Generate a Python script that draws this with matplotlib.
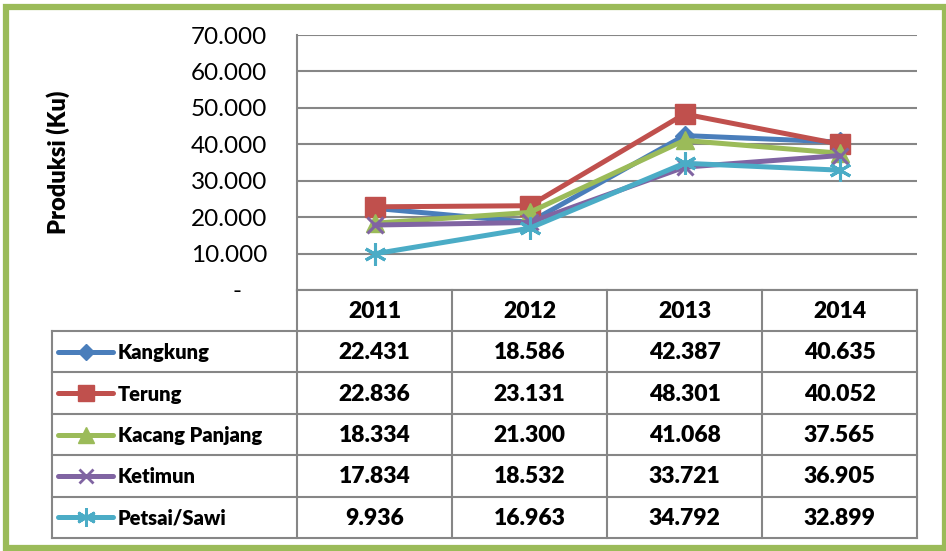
import numpy as np
import matplotlib
matplotlib.use('Agg')
import matplotlib.pyplot as plt
from matplotlib.patches import Rectangle
from matplotlib.lines import Line2D

# Data (produksi, Ku)
years = ['2011', '2012', '2013', '2014']
kangkung = [22431, 18586, 42387, 40635]
terung = [22836, 23131, 48301, 40052]
kacang_panjang = [18334, 21300, 41068, 37565]
ketimun = [17834, 18532, 33721, 36905]
petsai_sawi = [9936, 16963, 34792, 32899]
series_names = ['Kangkung', 'Terung', 'Kacang Panjang', 'Ketimun', 'Petsai/Sawi']
y_ticks = [0, 10000, 20000, 30000, 40000, 50000, 60000, 70000]

series = [kangkung, terung, kacang_panjang, ketimun, petsai_sawi]
colors = ['#4A7EBB', '#C0504D', '#9BBB59', '#8064A2', '#4BACC6']
markers = ['D', 's', '^', 'x', (6, 2, 0)]
msizes = [10, 14, 13, 12, 16]

plt.rcParams['font.family'] = ['Lato', 'DejaVu Sans']
BOLD = 'heavy'

W, H = 946, 551
fig = plt.figure(figsize=(W / 100, H / 100), dpi=100)


def fmt(v):
    # Excel accounting style: zero shown as a padded dash
    return '{:,}'.format(v).replace(',', '.') if v else '-\u00a0\u00a0\u00a0\u00a0'


# pixel geometry
px_l, px_r = 297, 917
px_top, px_zero = 35, 290
col_w = (px_r - px_l) / len(years)

ax = fig.add_axes([px_l / W, 1 - px_zero / H, (px_r - px_l) / W, (px_zero - px_top) / H])
ax.set_xlim(0, len(years))
ax.set_ylim(0, 70000)
x = np.arange(len(years)) + 0.5
for vals, c, m, ms in zip(series, colors, markers, msizes):
    ax.plot(x, vals, color=c, lw=3.6, marker=m, markersize=ms,
            markeredgewidth=2.2 if m in ('x', (6, 2, 0)) else 1, markeredgecolor=c,
            solid_capstyle='round', clip_on=False)
ax.set_yticks(y_ticks)
ax.set_yticklabels([fmt(v) for v in y_ticks], fontsize=17.5)
ax.set_xticks([])
ax.yaxis.grid(True, color='#868686', lw=1.5)
ax.set_axisbelow(True)
ax.tick_params(axis='y', length=0, pad=21.5)
for s in ['top', 'right', 'bottom']:
    ax.spines[s].set_visible(False)
ax.spines['left'].set_color('#868686')
ax.spines['left'].set_linewidth(1.5)
ax.text(-0.385, 0.5, 'Produksi (Ku)', transform=ax.transAxes, rotation=90,
        ha='center', va='center', fontsize=17, fontweight=BOLD)

# overlay in pixel coordinates for table + frame
ov = fig.add_axes([0, 0, 1, 1])
ov.set_xlim(0, W)
ov.set_ylim(H, 0)
ov.axis('off')

ov.add_patch(Rectangle((6, 6.5), 938.5, 541, fill=False, ec='#9BBB59', lw=4.5))

grid_c = '#868686'
lw_t = 1.5
leg_l = 52
header_top, header_bot = 290, 331
row_h = (538 - header_bot) / len(series)
table_bot = header_bot + row_h * len(series)

# header row
ov.plot([px_l, px_r], [header_top, header_top], color=grid_c, lw=lw_t)
for i in range(len(years) + 1):
    xx = px_l + i * col_w
    ov.plot([xx, xx], [header_top, table_bot], color=grid_c, lw=lw_t)
ov.plot([leg_l, leg_l], [header_bot, table_bot], color=grid_c, lw=lw_t)
for j in range(len(series) + 1):
    yy = header_bot + j * row_h
    ov.plot([leg_l, px_r], [yy, yy], color=grid_c, lw=lw_t)

for i, yr in enumerate(years):
    ov.text(px_l + (i + 0.5) * col_w, (header_top + header_bot) / 2 + 1, yr,
            ha='center', va='center', fontsize=16.5, fontweight=BOLD)

for j, (name, vals, c, m, ms) in enumerate(zip(series_names, series, colors, markers, msizes)):
    yc = header_bot + (j + 0.5) * row_h
    ov.add_line(Line2D([58, 113], [yc, yc], color=c, lw=3.6, solid_capstyle='round'))
    ov.add_line(Line2D([85.5], [yc], color=c, marker=m, markersize=ms * 0.85,
                       markeredgecolor=c, markeredgewidth=2 if m in ('x', (6, 2, 0)) else 1))
    ov.text(118, yc + 1, name, ha='left', va='center', fontsize=14.5, fontweight=BOLD)
    for i, v in enumerate(vals):
        ov.text(px_l + (i + 0.5) * col_w, yc + 1, fmt(v), ha='center', va='center',
                fontsize=16.5, fontweight=BOLD)

fig.savefig('out.png', dpi=100, facecolor='white')
